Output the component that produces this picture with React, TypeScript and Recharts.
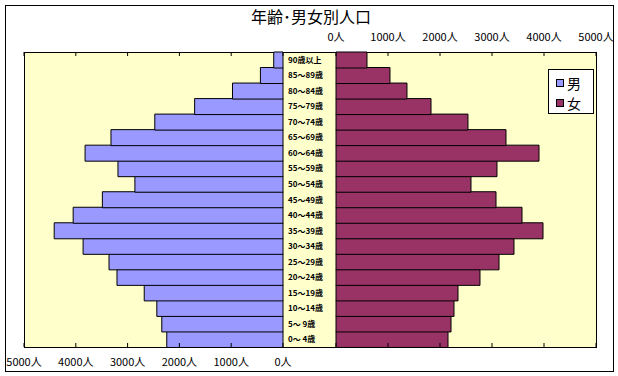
import { BarChart, Bar, XAxis, YAxis } from "recharts";

// 年齢階級（下から上へ）
const ageGroups = [
  "0～ 4歳", "5～ 9歳", "10～14歳", "15～19歳", "20～24歳", "25～29歳",
  "30～34歳", "35～39歳", "40～44歳", "45～49歳", "50～54歳", "55～59歳",
  "60～64歳", "65～69歳", "70～74歳", "75～79歳", "80～84歳", "85～89歳", "90歳以上",
];
const male = [
  2244, 2340, 2436, 2679, 3205, 3359, 3859, 4417, 4051, 3487,
  2859, 3186, 3821, 3321, 2475, 1706, 975, 436, 179,
];
const female = [
  2154, 2212, 2269, 2346, 2769, 3135, 3423, 3981, 3577, 3077,
  2596, 3096, 3904, 3269, 2538, 1827, 1365, 1038, 596,
];
const axisTicks = [0, 1000, 2000, 3000, 4000, 5000];

const MALE_COLOR = "#9999FF";
const FEMALE_COLOR = "#993366";
const FONT = "'Noto Sans CJK JP', 'Noto Sans', sans-serif";
const PLOT_H = 295;

const data = ageGroups.map((age, i) => ({ age, male: male[i], female: female[i] }));

// bottom axis tick: inward marks on bottom and top edges, label below or above
function makeTick(labelSide: "top" | "bottom") {
  return (props: any) => {
    const { x, y, payload } = props;
    const top = y - PLOT_H;
    return (
      <g>
        <line x1={x} x2={x} y1={y} y2={y - 4} stroke="#000" />
        <line x1={x} x2={x} y1={top} y2={top + 4} stroke="#000" />
        <text
          x={x}
          y={labelSide === "bottom" ? y + 19 : top - 11}
          textAnchor="middle"
          fontSize={11}
          fontFamily={FONT}
          fill="#000"
        >
          {payload.value}人
        </text>
      </g>
    );
  };
}
const maleTick = makeTick("bottom");
const femaleTick = makeTick("top");

function AgeTick(props: any) {
  const { x, y, payload } = props;
  return (
    <text
      x={x - 48}
      y={y + 3}
      fontSize={8}
      fontWeight="bold"
      fontFamily={FONT}
      fill="#000"
      style={{ whiteSpace: "pre" }}
    >
      {payload.value}
    </text>
  );
}

export default function App() {
  return (
    <div style={{ position: "absolute", left: 0, top: 0, width: 618, height: 376, background: "#fff", fontFamily: FONT }}>
      {/* outer frame */}
      <div style={{
        position: "absolute", left: 5, top: 5, width: 609, height: 367,
        border: "1px solid #000", boxSizing: "border-box",
      }} />
      {/* title */}
      <div style={{
        position: "absolute", left: 0, top: 8, width: 622, textAlign: "center",
        fontSize: 16, lineHeight: "16px", color: "#000",
      }}>
        年齢･男女別人口
      </div>
      {/* plot background */}
      <div style={{
        position: "absolute", left: 24, top: 52, width: 573, height: 296,
        background: "#FFFFCC", border: "1px solid #000", boxSizing: "border-box",
      }} />

      {/* 男 */}
      <div style={{ position: "absolute", left: 0, top: 0 }}>
        <BarChart
          width={300}
          height={376}
          data={data}
          layout="vertical"
          barCategoryGap={0}
          margin={{ top: 52, left: 23, right: 17, bottom: 28 }}
        >
          <XAxis
            type="number" domain={[0, 5000]} ticks={axisTicks} reversed
            height={1} tickSize={0} tickMargin={0}
            axisLine={false} tickLine={false} tick={maleTick} interval={0}
          />
          <YAxis type="category" dataKey="age" reversed width={1} axisLine={false} tickLine={false} tick={false} />
          <Bar dataKey="male" fill={MALE_COLOR} stroke="#000" strokeWidth={1} isAnimationActive={false} />
        </BarChart>
      </div>

      {/* 女 */}
      <div style={{ position: "absolute", left: 280, top: 0 }}>
        <BarChart
          width={338}
          height={376}
          data={data}
          layout="vertical"
          barCategoryGap={0}
          margin={{ top: 52, left: 55, right: 22, bottom: 28 }}
        >
          <XAxis
            type="number" domain={[0, 5000]} ticks={axisTicks}
            height={1} tickSize={0} tickMargin={0}
            axisLine={false} tickLine={false} tick={femaleTick} interval={0}
          />
          <YAxis
            type="category" dataKey="age" reversed width={1} axisLine={false}
            tickLine={false} tickSize={0} tickMargin={0} tick={AgeTick} interval={0}
          />
          <Bar dataKey="female" fill={FEMALE_COLOR} stroke="#000" strokeWidth={1} isAnimationActive={false} />
        </BarChart>
      </div>

      {/* legend */}
      <div style={{
        position: "absolute", left: 548, top: 69, width: 46, height: 45,
        background: "#fff", border: "1px solid #000", boxSizing: "border-box",
        fontSize: 14, color: "#000",
      }}>
        {[{ name: "男", color: MALE_COLOR }, { name: "女", color: FEMALE_COLOR }].map((item, i) => (
          <div key={item.name} style={{ position: "absolute", left: 7, top: 4 + i * 20, height: 18, display: "flex", alignItems: "center" }}>
            <span style={{ width: 8, height: 8, background: item.color, border: "1px solid #000", boxSizing: "border-box", marginRight: 3 }} />
            <span style={{ lineHeight: "18px" }}>{item.name}</span>
          </div>
        ))}
      </div>
    </div>
  );
}
